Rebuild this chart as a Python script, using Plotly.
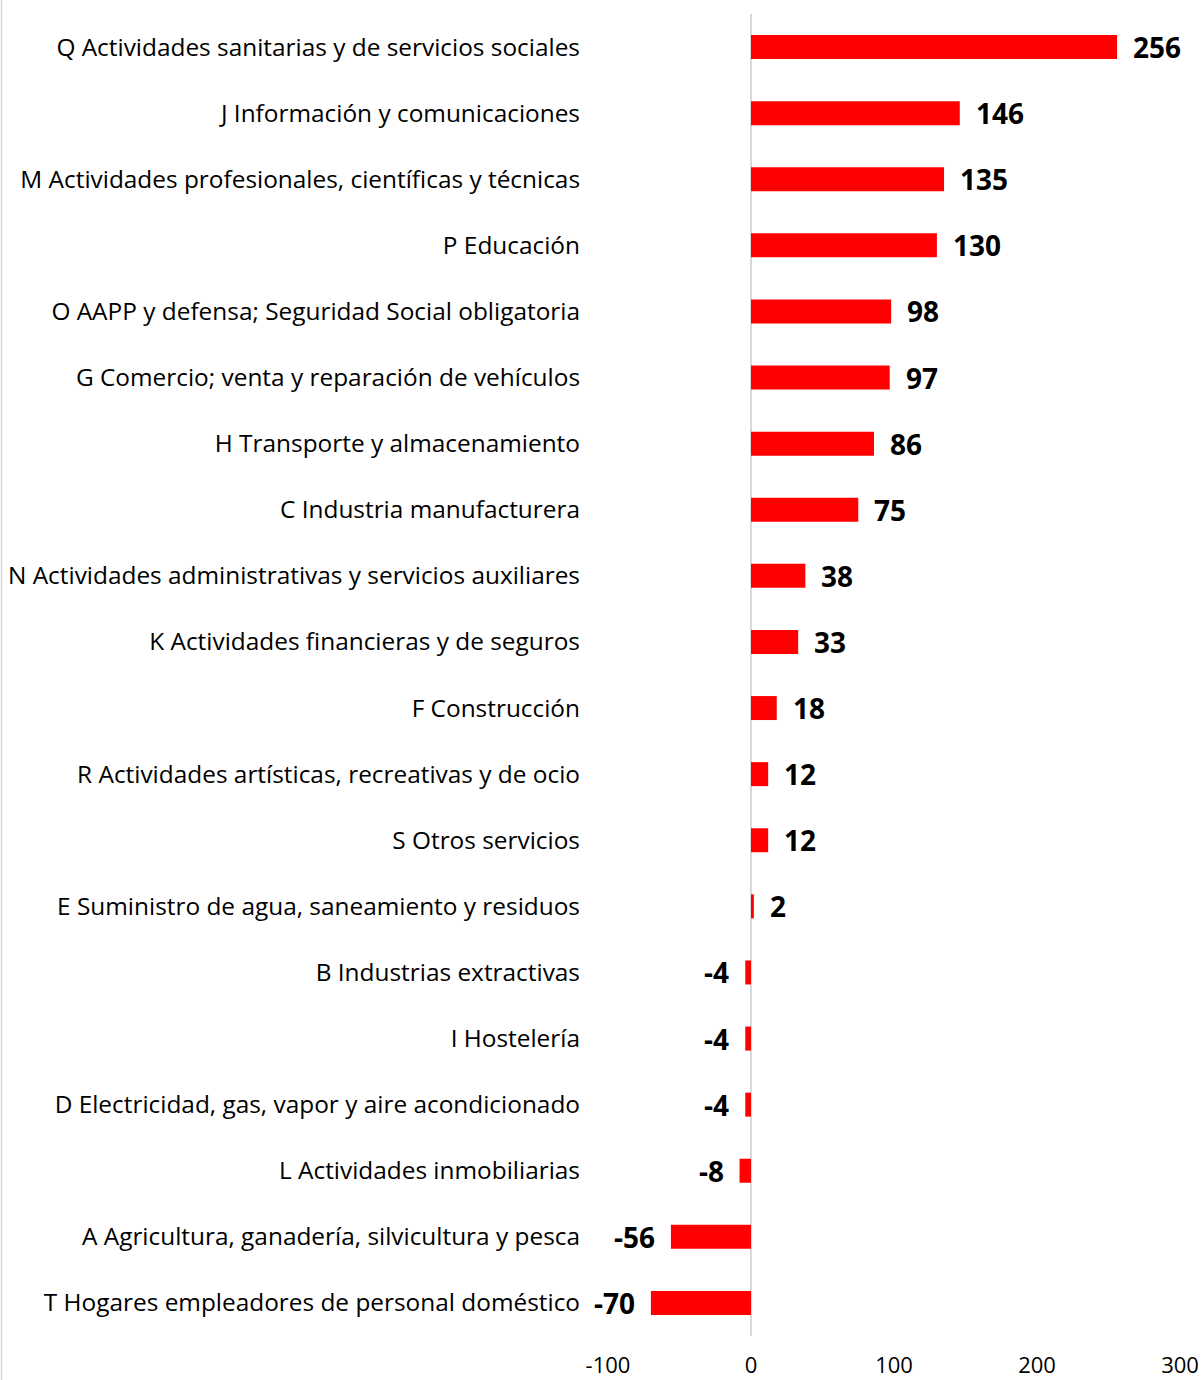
import plotly.graph_objects as go

categories = [
    "Q Actividades sanitarias y de servicios sociales",
    "J Información y comunicaciones",
    "M Actividades profesionales, científicas y técnicas",
    "P Educación",
    "O AAPP y defensa; Seguridad Social obligatoria",
    "G Comercio; venta y reparación de vehículos",
    "H Transporte y almacenamiento",
    "C Industria manufacturera",
    "N Actividades administrativas y servicios auxiliares",
    "K Actividades financieras y de seguros",
    "F Construcción",
    "R Actividades artísticas, recreativas y de ocio",
    "S Otros servicios",
    "E Suministro de agua, saneamiento y residuos",
    "B Industrias extractivas",
    "I Hostelería",
    "D Electricidad, gas, vapor y aire acondicionado",
    "L Actividades inmobiliarias",
    "A Agricultura, ganadería, silvicultura y pesca",
    "T Hogares empleadores de personal doméstico",
]
values = [256, 146, 135, 130, 98, 97, 86, 75, 38, 33, 18, 12, 12, 2, -4, -4, -4, -8, -56, -70]
x_ticks = [-100, 0, 100, 200, 300]

FONT = "Open Sans"

fig = go.Figure()
fig.add_trace(go.Bar(
    x=values, y=categories, orientation="h",
    marker=dict(color="#FF0000", line=dict(width=0)),
    hoverinfo="x+y",
))

annotations = []
for c, v in zip(categories, values):
    annotations.append(dict(
        x=v, y=c, xref="x", yref="y", text=f"<b>{v}</b>", showarrow=False,
        xanchor="left" if v >= 0 else "right",
        xshift=14 if v >= 0 else -14,
        yshift=0,
        font=dict(family=FONT, size=28, color="#000000"),
    ))

fig.update_layout(
    template="none",
    width=1204, height=1380, autosize=False,
    margin=dict(l=608, r=24, t=14, b=44, pad=0),
    paper_bgcolor="white", plot_bgcolor="white",
    bargap=0.637,
    showlegend=False,
    annotations=annotations,
    font=dict(family=FONT, color="#000000"),
    shapes=[dict(type="line", xref="paper", yref="paper",
                 x0=-1.0603, x1=-1.0603, y0=-0.034, y1=1.011,
                 line=dict(color="#d9d9d9", width=1.5))],
)
fig.update_xaxes(
    range=[-100, 300], tickvals=x_ticks, ticktext=[str(t) for t in x_ticks],
    showgrid=False, zeroline=True, zerolinecolor="#d9d9d9", zerolinewidth=2,
    showline=False, ticks="", automargin=False,
    tickfont=dict(family=FONT, size=22, color="#000000"),
    ticklabelstandoff=14,
)
fig.update_yaxes(
    autorange="reversed", showgrid=False, showline=False, ticks="", automargin=False,
    zeroline=False,
    tickfont=dict(family=FONT, size=24.4, color="#000000"),
    ticklabelstandoff=27,
)

fig.write_html(
    "out.html",
    config={"displayModeBar": False, "responsive": False},
    post_script="document.body.style.margin='0';document.body.style.overflow='hidden';",
)
